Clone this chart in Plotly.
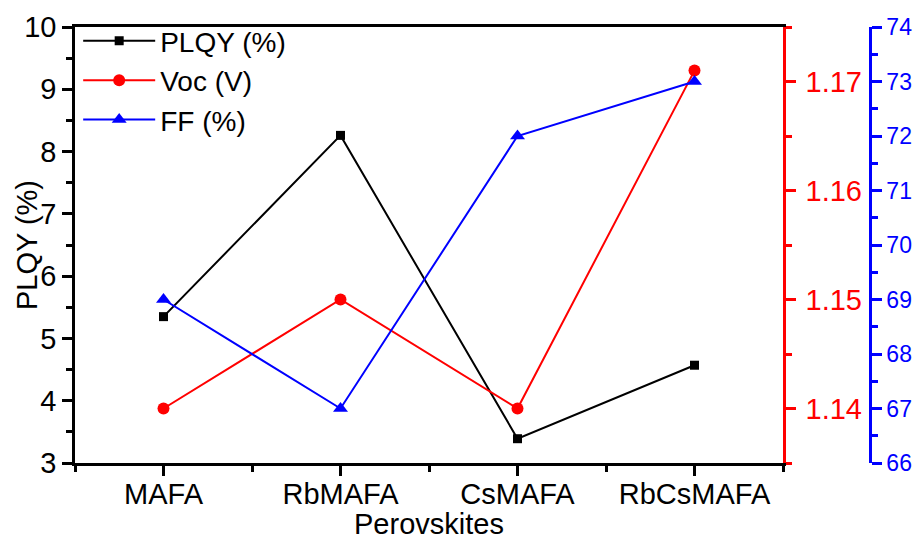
import plotly.graph_objects as go

categories = ["MAFA", "RbMAFA", "CsMAFA", "RbCsMAFA"]
plqy = [5.35, 8.26, 3.39, 4.57]
voc = [1.140, 1.150, 1.140, 1.171]
ff = [69.0, 67.0, 72.0, 73.0]

xpos = list(range(len(categories)))
FONT = "Liberation Sans, Arial, sans-serif"
FS = 29

fig = go.Figure()
fig.add_trace(go.Scatter(x=xpos, y=plqy, name="PLQY (%)", mode="lines+markers",
                         line=dict(color="black", width=2),
                         marker=dict(symbol="square", size=9, color="black"),
                         yaxis="y"))
fig.add_trace(go.Scatter(x=xpos, y=voc, name="Voc (V)", mode="lines+markers",
                         line=dict(color="red", width=2),
                         marker=dict(symbol="circle", size=12, color="red"),
                         yaxis="y2"))
fig.add_trace(go.Scatter(x=xpos, y=ff, name="FF (%)", mode="lines+markers",
                         line=dict(color="blue", width=2),
                         marker=dict(symbol="triangle-up", size=13, color="blue"),
                         yaxis="y3"))

W, H = 916, 542
L, T, B = 75, 27, 79
plot_right = 783
blue_x = 870
R = W - blue_x
paper_w = blue_x - L
plot_h = H - T - B
x_dom_end = (plot_right - L) / paper_w

fig.update_layout(
    width=W, height=H,
    margin=dict(l=L, r=R, t=T, b=B, pad=0),
    paper_bgcolor="white", plot_bgcolor="white",
    font=dict(family=FONT, size=FS, color="black"),
    showlegend=True,
    legend=dict(x=0.004, y=1.025, xanchor="left", yanchor="top",
                bgcolor="rgba(0,0,0,0)", font=dict(size=28),
                tracegroupgap=0, itemwidth=72),
    xaxis=dict(
        domain=[0, x_dom_end],
        range=[-0.5, 3.5], tickmode="array", tickvals=xpos, ticktext=categories,
        showgrid=False, zeroline=False, automargin=False,
        showline=True, linecolor="black", linewidth=2.5, mirror=True,
        ticks="outside", ticklen=10, tickwidth=2.5, tickcolor="black",
        ticklabelstandoff=-7,
        minor=dict(tickmode="array", tickvals=[-0.5, 0.5, 1.5, 2.5, 3.5],
                   ticks="outside", ticklen=6, tickwidth=2.5, tickcolor="black"),
        tickfont=dict(size=FS),
    ),
    yaxis=dict(
        range=[3, 10], dtick=1, tick0=0, automargin=False,
        showgrid=False, zeroline=False,
        showline=True, linecolor="black", linewidth=2.5,
        ticks="outside", ticklen=10, tickwidth=2.5, tickcolor="black",
        minor=dict(dtick=0.5, ticks="outside", ticklen=6, tickwidth=2.5, tickcolor="black"),
        tickfont=dict(size=FS),
    ),
    yaxis2=dict(
        range=[1.135, 1.175], dtick=0.01, tick0=1.14, tickformat=".2f",
        overlaying="y", side="right", anchor="x", automargin=False,
        showgrid=False, zeroline=False,
        showline=True, linecolor="red", linewidth=2.5,
        ticks="outside", ticklen=10, tickwidth=2.5, tickcolor="red",
        ticklabelstandoff=4,
        minor=dict(dtick=0.005, tick0=1.135, ticks="outside", ticklen=6, tickwidth=2.5, tickcolor="red"),
        tickfont=dict(size=FS, color="red"),
    ),
    yaxis3=dict(
        range=[66, 74], dtick=1, tick0=66,
        overlaying="y", side="right", anchor="free", position=1.0, automargin=False,
        showgrid=False, zeroline=False,
        showline=True, linecolor="blue", linewidth=2.5,
        ticks="outside", ticklen=10, tickwidth=2.5, tickcolor="blue",
        minor=dict(dtick=0.5, ticks="outside", ticklen=6, tickwidth=2.5, tickcolor="blue"),
        tickfont=dict(size=23, color="blue"),
    ),
    annotations=[
        dict(text="PLQY (%)", xref="paper", yref="paper",
             x=(27 - L) / paper_w, y=0.5, xanchor="center", yanchor="middle",
             textangle=-90, showarrow=False, font=dict(size=FS, color="black")),
        dict(text="Perovskites", xref="paper", yref="paper",
             x=x_dom_end / 2, y=(T + plot_h - 542) / plot_h, xanchor="center", yanchor="bottom",
             showarrow=False, font=dict(size=FS, color="black")),
    ],
)

fig.write_html("out.html")
